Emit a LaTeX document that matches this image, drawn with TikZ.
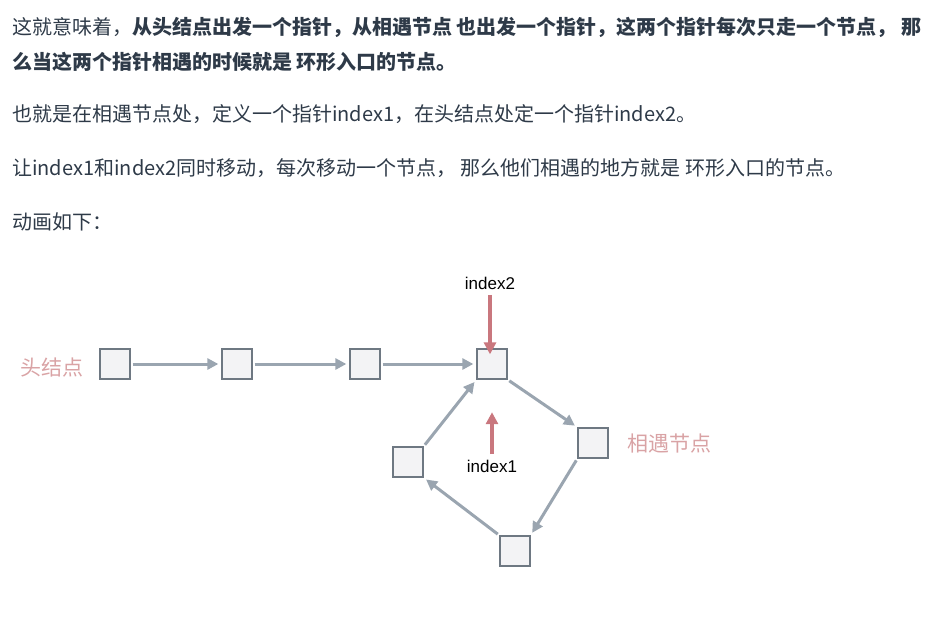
\documentclass[tikz,border=0pt]{standalone}
\usepackage{fontspec}
\setmainfont{Noto Sans CJK SC}
\newfontfamily\labelfont{Liberation Sans}
\usetikzlibrary{arrows.meta}
\definecolor{textcol}{HTML}{2E3A48}
\definecolor{linkcol}{HTML}{9AA5B0}
\definecolor{ptrcol}{HTML}{C9777E}
\definecolor{pinkcol}{HTML}{D9A3A5}
\definecolor{boxfill}{HTML}{F3F3F5}
\definecolor{boxdraw}{HTML}{6E7882}
\begin{document}
\begin{tikzpicture}[x=1pt,y=-1pt,>={Triangle[length=11pt,width=11pt]},
  listbox/.style={draw=boxdraw,fill=boxfill,line width=1.3pt,minimum size=30pt,inner sep=0pt},
  link/.style={->,draw=linkcol,line width=3pt,shorten <=2pt,shorten >=3pt},
  ptr/.style={->,draw=ptrcol,line width=3.6pt,>={Triangle[length=12pt,width=12pt]}},
  para/.style={anchor=west,inner sep=0pt,font=\fontsize{20}{24}\selectfont,text=textcol}]
%%
\useasboundingbox (0,0) rectangle (932,619);
\node (line1) at (12,27) [para] {这就意味着，\textbf{从头结点出发一个指针，从相遇节点 也出发一个指针，这两个指针每次只走一个节点， 那}};
  \node (line2) at (12,62) [para] {\textbf{么当这两个指针相遇的时候就是 环形入口的节点。}};
  \node (line3) at (12,114) [para] {也就是在相遇节点处，定义一个指针index1，在头结点处定一个指针index2。};
  \node (line4) at (12,168) [para] {让index1和index2同时移动，每次移动一个节点， 那么他们相遇的地方就是 环形入口的节点。};
  \node (line5) at (12,222) [para] {动画如下：};
  \node (n1) at (115,364) [listbox] {};
  \node (n2) at (237,364) [listbox] {};
  \node (n3) at (365,364) [listbox] {};
  \node (entry) at (492,364) [listbox] {};
  \node (meet) at (593,443) [listbox] {};
  \node (bottom) at (515,551) [listbox] {};
  \node (left) at (408,462) [listbox] {};
  \node (headlabel) at (52,367) [font=\fontsize{21}{24}\selectfont,text=pinkcol] {头结点};
  \node (meetlabel) at (669,444) [font=\fontsize{21}{24}\selectfont,text=pinkcol] {相遇节点};
  \node (idx2) at (490,283) [font=\labelfont\fontsize{17}{20}\selectfont] {index2};
  \node (idx1) at (492,466) [font=\labelfont\fontsize{17}{20}\selectfont] {index1};
  \draw [link] (n1) -- (n2);
  \draw [link] (n2) -- (n3);
  \draw [link] (n3) -- (entry);
  \draw [link] (entry.south east) -- (meet.north west);
  \draw [link] (meet.south west) -- (bottom.north east);
  \draw [link] (bottom.north west) -- (left.south east);
  \draw [link] (left.north east) -- (entry.south west);
  \draw [ptr] ([yshift=-2pt]idx2.south) -- ([yshift=-6pt]entry.north -| idx2.south);
  \draw [ptr] ([yshift=2pt]idx1.north) -- ++(0,-42);
%
\end{tikzpicture}
\end{document}
